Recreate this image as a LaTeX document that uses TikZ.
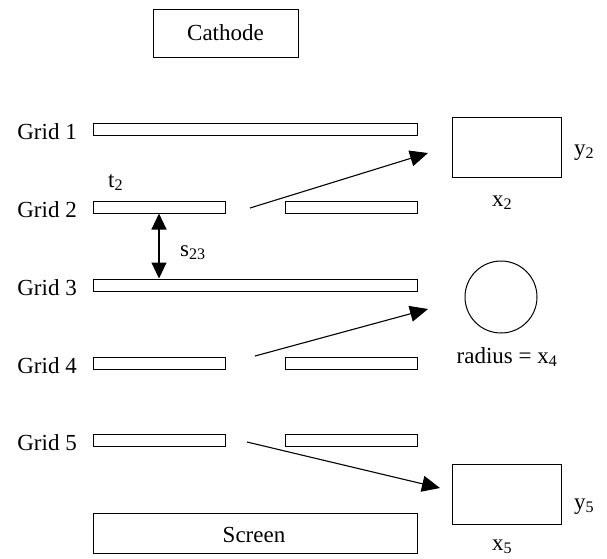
\documentclass[tikz,border=0pt]{standalone}
\usepackage{fontspec}
\setmainfont{Liberation Serif}
\usetikzlibrary{arrows.meta}
\begin{document}
\begin{tikzpicture}[x=1pt,y=-1pt,
  every node/.style={font=\rmfamily\fontsize{23}{27}\selectfont},
  gridbar/.style={draw,line width=1pt,inner sep=0pt,minimum height=12pt},
  boxnode/.style={draw,line width=1pt,inner sep=0pt},
  lbl/.style={inner sep=0pt},
  arr/.style={line width=1.1pt,-{Triangle[length=18pt,width=16pt]}},
  darr/.style={line width=1.1pt,{Triangle[length=16pt,width=15pt]}-{Triangle[length=16pt,width=15pt]}}]
\useasboundingbox (0,0) rectangle (607,558);
% cathode and screen
\node[boxnode,minimum width=145pt,minimum height=48pt] (cathode) at (225.5,33) {Cathode};
\node[boxnode,minimum width=324pt,minimum height=40pt] (screen) at (255,533) {};
\node[lbl,anchor=base] (screentxt) at (254,542) {Screen};
% grids
\node[gridbar,minimum width=324pt] (g1) at (255,129) {};
\node[gridbar,minimum width=132pt] (g2l) at (159,207) {};
\node[gridbar,minimum width=132pt] (g2r) at (351,207) {};
\node[gridbar,minimum width=324pt] (g3) at (255,285) {};
\node[gridbar,minimum width=132pt] (g4l) at (159,363) {};
\node[gridbar,minimum width=132pt] (g4r) at (351,363) {};
\node[gridbar,minimum width=132pt] (g5l) at (159,440.5) {};
\node[gridbar,minimum width=132pt] (g5r) at (351,440.5) {};
% grid labels
\node[lbl,anchor=base east] (l1) at (77,139) {Grid 1};
\node[lbl,anchor=base east] (l2) at (77,217) {Grid 2};
\node[lbl,anchor=base east] (l3) at (77,295) {Grid 3};
\node[lbl,anchor=base east] (l4) at (77,373) {Grid 4};
\node[lbl,anchor=base east] (l5) at (77,450) {Grid 5};
% t2 and s23
\node[lbl,anchor=base west] (t2) at (108,187) {t\textsubscript{2}};
\coordinate (sx) at (159,0);
\draw[darr] (g2l.south -| sx) -- (g3.north -| sx);
\node[lbl,anchor=base west] (s23) at (180,256) {s\textsubscript{23}};
% beam shapes
\node[boxnode,minimum width=109pt,minimum height=60pt] (b2) at (506.5,147) {};
\node[lbl,anchor=base west] (y2) at (574,155) {y\textsubscript{2}};
\node[lbl,anchor=base west] (x2) at (492,206) {x\textsubscript{2}};
\node[draw,circle,line width=1pt,minimum size=72pt,inner sep=0pt] (c4) at (501,297) {};
\node[lbl,anchor=base] (r4) at (507,363) {radius = x\textsubscript{4}};
\node[boxnode,minimum width=109pt,minimum height=60pt] (b5) at (506.5,494) {};
\node[lbl,anchor=base west] (y5) at (574,509) {y\textsubscript{5}};
\node[lbl,anchor=base west] (x5) at (492,550) {x\textsubscript{5}};
% arrows
\coordinate (a1s) at (250,208);
\coordinate (a1e) at (428,153);
\coordinate (a2s) at (255,356);
\coordinate (a2e) at (428,309);
\coordinate (a3s) at (247,442);
\coordinate (a3e) at (440,488);
\draw[arr] (a1s) -- (a1e);
\draw[arr] (a2s) -- (a2e);
\draw[arr] (a3s) -- (a3e);
\end{tikzpicture}
\end{document}
